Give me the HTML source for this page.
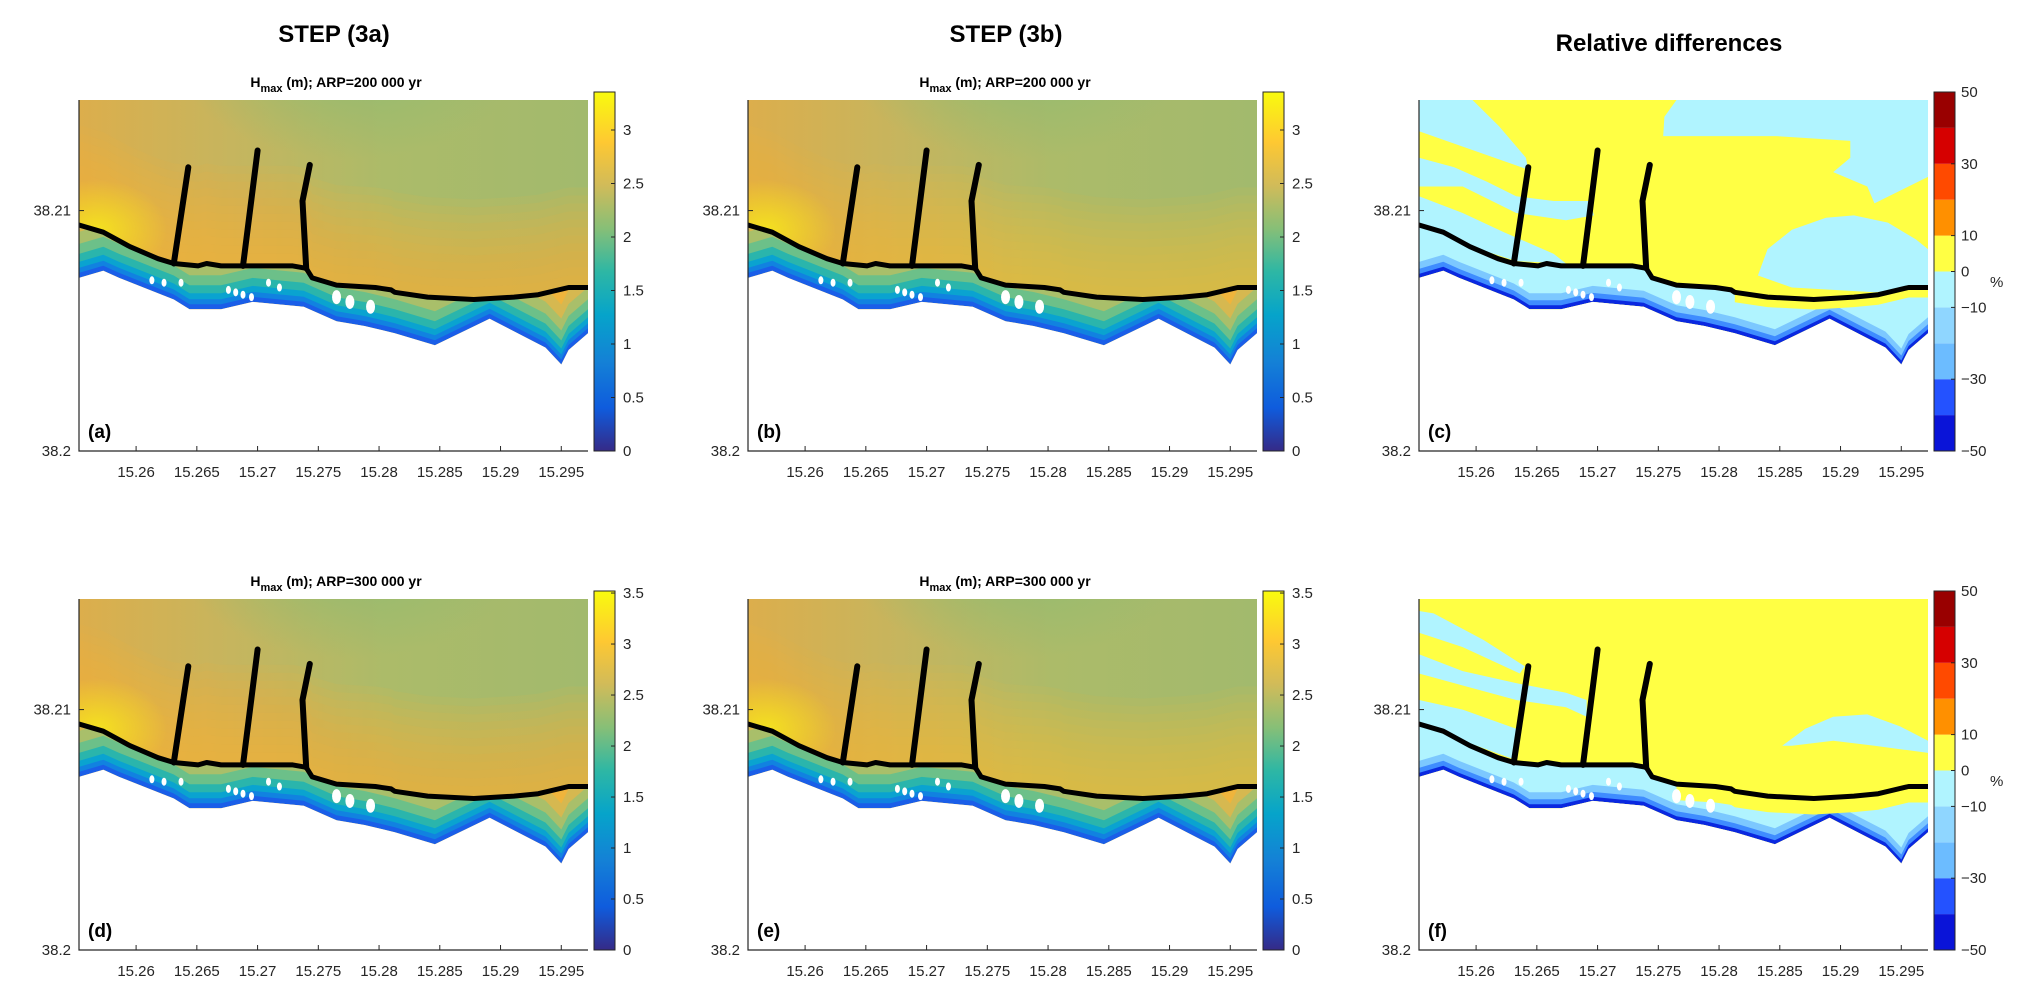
<!DOCTYPE html>
<html><head><meta charset="utf-8">
<style>
html,body{margin:0;padding:0;background:#fff;}
svg{display:block;font-family:"Liberation Sans",sans-serif;}
</style></head>
<body>
<svg id="fig" width="2027" height="999" viewBox="0 0 2027 999" xmlns="http://www.w3.org/2000/svg">
  <defs id="defs"></defs>
  <text x="334" y="42" font-size="24" font-weight="bold" text-anchor="middle" fill="#000">STEP (3a)</text>
  <text x="1006" y="42" font-size="24" font-weight="bold" text-anchor="middle" fill="#000">STEP (3b)</text>
  <text x="1669" y="51" font-size="24" font-weight="bold" text-anchor="middle" fill="#000">Relative differences</text>
</svg>
<script>
// ---------- data ----------
const xTicks = [15.26,15.265,15.27,15.275,15.28,15.285,15.29,15.295];
const xTickLabels = ["15.26","15.265","15.27","15.275","15.28","15.285","15.29","15.295"];
const yTicks = [38.2,38.21];
const yTickLabels = ["38.2","38.21"];
const coastLon = [15.2553,15.2573,15.2595,15.2618,15.2631,15.2651,15.2658,15.2670,15.2690,15.2716,15.2729,15.2740,15.2745,15.2765,15.2797,15.2810,15.2813,15.2840,15.2878,15.2911,15.2931,15.2956,15.2972];
const coastLat = [38.2094,38.2091,38.2085,38.2080,38.2078,38.2077,38.2078,38.2077,38.2077,38.2077,38.2077,38.2076,38.2072,38.2069,38.2068,38.2067,38.2066,38.2064,38.2063,38.2064,38.2065,38.2068,38.2068];
const edgeLon = [15.2553,15.2573,15.2586,15.2631,15.2644,15.2670,15.2696,15.2738,15.2765,15.2788,15.2813,15.2846,15.2891,15.2937,15.2950,15.2956,15.2972];
const edgeLat = [38.2072,38.2075,38.2072,38.2063,38.2059,38.2059,38.2062,38.2060,38.2054,38.2052,38.2049,38.2044,38.2055,38.2043,38.2036,38.2042,38.2049];
const pier1Lon = [15.2631,15.2643]; const pier1Lat = [38.2078,38.2118];
const pier2Lon = [15.2688,15.2700]; const pier2Lat = [38.2077,38.2125];
const pier3Lon = [15.2740,15.2737,15.2743]; const pier3Lat = [38.2076,38.2104,38.2119];
const bldLon = [15.2613,15.2623,15.2637,15.2676,15.2682,15.2688,15.2695,15.2709,15.2718,15.2765,15.2776,15.2793];
const bldLat = [38.2071,38.2070,38.2070,38.2067,38.2066,38.2065,38.2064,38.2070,38.2068,38.2064,38.2062,38.2060];
const hTicks200 = [0,0.5,1,1.5,2,2.5,3];
const hTicks300 = [0,0.5,1,1.5,2,2.5,3,3.5];
const hMax200 = 3.355;
const hMax300 = 3.52;
const diffBounds = [-50,-40,-30,-20,-10,0,10,20,30,40,50];
const diffColors = ["#0a14d8","#2452ff","#6cbcff","#8fd6ff","#b0f4ff","#ffff44","#ff9000","#ff4a00","#d60000","#990000"];
const diffTicks = [-50,-30,-10,0,10,30,50];
const cA_lon=[15.2553,15.2597,15.2619,15.2641,15.2643,15.2553]; const cA_lat=[38.2146,38.2146,38.2135,38.2122,38.2117,38.2133];
const cB_lon=[15.2553,15.2582,15.2609,15.2633,15.2664,15.2694,15.2697,15.2674,15.2633,15.2589,15.2553]; const cB_lat=[38.2122,38.2118,38.2112,38.2106,38.2104,38.2104,38.2098,38.2096,38.2099,38.2110,38.2110];
const cC_lon=[15.2553,15.2589,15.2623,15.2664,15.2674,15.2633,15.2553]; const cC_lat=[38.2106,38.2099,38.2091,38.2082,38.2078,38.2079,38.2092];
const cD_lon=[15.2765,15.2972,15.2972,15.2928,15.2922,15.2894,15.2908,15.2908,15.2847,15.2754,15.2755]; const cD_lat=[38.2146,38.2146,38.2114,38.2103,38.2110,38.2116,38.2122,38.2129,38.2131,38.2131,38.2139];
const cE_lon=[15.2832,15.2840,15.2860,15.2888,15.2911,15.2939,15.2962,15.2972,15.2972,15.2928,15.2860]; const cE_lat=[38.2073,38.2084,38.2092,38.2097,38.2098,38.2095,38.2088,38.2084,38.2068,38.2066,38.2068];
const f1_lon=[15.2553,15.2565,15.2606,15.2640,15.2636,15.2589,15.2553]; const f1_lat=[38.2141,38.2140,38.2129,38.2118,38.2115,38.2126,38.2132];
const f2_lon=[15.2553,15.2589,15.2633,15.2674,15.2691,15.2691,15.2674,15.2633,15.2589,15.2553]; const f2_lat=[38.2123,38.2116,38.2111,38.2107,38.2104,38.2097,38.2101,38.2104,38.2110,38.2115];
const f3_lon=[15.2553,15.2589,15.2633,15.2633,15.2589,15.2553]; const f3_lat=[38.2104,38.2100,38.2092,38.2079,38.2087,38.2094];
const f4_lon=[15.2852,15.2871,15.2894,15.2922,15.2949,15.2972,15.2972,15.2928,15.2894,15.2860]; const f4_lat=[38.2085,38.2092,38.2097,38.2098,38.2093,38.2087,38.2082,38.2085,38.2087,38.2085];

// ---------- helpers ----------
const NS="http://www.w3.org/2000/svg";
const svg=document.getElementById('fig');
const defs=document.getElementById('defs');
function mk(tag,attrs,parent){const e=document.createElementNS(NS,tag);for(const k in attrs)e.setAttribute(k,attrs[k]);(parent||svg).appendChild(e);return e;}
const LON0=15.2553,LON1=15.2972,LAT0=38.2,LAT1=38.2146;
const PL=79,PR=588,PT=100,PB=451;
function axX(ox){return lon=>ox+PL+(lon-LON0)/(LON1-LON0)*(PR-PL);}
function axY(oy){return lat=>oy+PB-(lat-LAT0)/(LAT1-LAT0)*(PB-PT);}
function pts(lons,lats,X,Y,dy){return lons.map((v,i)=>X(v).toFixed(1)+','+(Y(lats[i])+(dy||0)).toFixed(1));}
const parulaStops=[[0,"#352a87"],[0.12,"#0f5cdd"],[0.25,"#1481d6"],[0.38,"#06a4ca"],[0.5,"#2eb7a4"],[0.62,"#87bf77"],[0.74,"#d1bb59"],[0.86,"#fec832"],[1,"#f9fb0e"]];
let gid=0;
function parulaGrad(){const id='pg'+(gid++);const g=mk('linearGradient',{id:id,x1:0,y1:1,x2:0,y2:0},defs);parulaStops.forEach(s=>mk('stop',{offset:s[0],'stop-color':s[1]},g));return id;}

const panels=[
 {ox:0,oy:0,kind:'h',max:hMax200,ticks:hTicks200,lab:'(a)',arp:'200 000',var:0},
 {ox:669,oy:0,kind:'h',max:hMax200,ticks:hTicks200,lab:'(b)',arp:'200 000',var:1},
 {ox:1340,oy:0,kind:'d',lab:'(c)',cyan:[[cA_lon,cA_lat],[cB_lon,cB_lat],[cC_lon,cC_lat],[cD_lon,cD_lat],[cE_lon,cE_lat]]},
 {ox:0,oy:499,kind:'h',max:hMax300,ticks:hTicks300,lab:'(d)',arp:'300 000',var:0},
 {ox:669,oy:499,kind:'h',max:hMax300,ticks:hTicks300,lab:'(e)',arp:'300 000',var:1},
 {ox:1340,oy:499,kind:'d',lab:'(f)',cyan:[[f1_lon,f1_lat],[f2_lon,f2_lat],[f3_lon,f3_lat],[f4_lon,f4_lat]]}
];

panels.forEach((p,pi)=>{
 const X=axX(p.ox),Y=axY(p.oy);
 const g=mk('g',{});
 
 
 const cid='clip'+pi;
 const cp=mk('clipPath',{id:cid},defs);
 mk('rect',{x:p.ox+PL,y:p.oy+PT,width:PR-PL,height:PB-PT},cp);
 const plot=mk('g',{'clip-path':'url(#'+cid+')'},g);
 
 
 const coastPts=pts(coastLon,coastLat,X,Y);
 const edgeRev=(k)=>pts(edgeLon,edgeLat,X,Y,-k).reverse();
 const inund='M'+coastPts.join(' L')+' L'+edgeRev(0).join(' L')+' Z';
 const icid='iclip'+pi;
 const icp=mk('clipPath',{id:icid},defs);
 mk('path',{d:inund},icp);
 if(p.kind==='h'){
  const gh='fh'+pi;
  const lg=mk('linearGradient',{id:gh,x1:0,y1:0,x2:1,y2:0},defs);
  mk('stop',{offset:0,'stop-color':'#dcae4c'},lg);
  mk('stop',{offset:0.3,'stop-color':'#c6b55e'},lg);
  mk('stop',{offset:0.6,'stop-color':'#acbb69'},lg);
  mk('stop',{offset:1,'stop-color':'#a2ba6d'},lg);
  const bg=mk('rect',{x:p.ox+PL,y:p.oy+PT,width:PR-PL,height:PB-PT,fill:'url(#'+gh+')'},plot);
  
  
  const rg='rg'+pi;
  const r=mk('radialGradient',{id:rg,cx:0.5,cy:0,r:0.45},defs);
  mk('stop',{offset:0,'stop-color':'#8fbb72','stop-opacity':0.9},r);
  mk('stop',{offset:1,'stop-color':'#8fbb72','stop-opacity':0},r);
  mk('rect',{x:p.ox+PL+80,y:p.oy+PT-40,width:380,height:220,fill:'url(#'+rg+')'},plot);
  for(let k=100;k>=8;k-=8){
   const d='M'+pts(coastLon,coastLat,X,Y,-k).join(' L')+' L'+(p.ox+PR)+','+(p.oy+PB)+' L'+(p.ox+PL)+','+(p.oy+PB)+' Z';
   mk('path',{d:d,fill:'#f7b437','fill-opacity':p.var?0.085:0.1},plot);
  }
  const yg='yg'+pi;
  const yr=mk('radialGradient',{id:yg,cx:0.5,cy:0.5,r:0.5},defs);
  mk('stop',{offset:0,'stop-color':'#f4e41e','stop-opacity':0.95},yr);
  mk('stop',{offset:1,'stop-color':'#f4e41e','stop-opacity':0},yr);
  mk('ellipse',{cx:X(15.2568),cy:Y(38.2092),rx:70,ry:50,fill:'url(#'+yg+')'},plot);
  const ig=mk('g',{'clip-path':'url(#'+icid+')'},plot);
  
  
  const layers=[[0,'#1a5ee8'],[5,'#1182e0'],[10,'#0aa3d0'],[16,'#2ab5ac'],[24,'#6cc089'],[34,'#a9bf6a'],[46,'#d6b850'],[60,'#efb43c']];
  layers.forEach(l=>{mk('path',{d:'M'+coastPts.join(' L')+' L'+edgeRev(l[0]).join(' L')+' Z',fill:l[1]},ig);});
 } else {
  const bg=mk('rect',{x:p.ox+PL,y:p.oy+PT,width:PR-PL,height:PB-PT,fill:'#ffff44'},plot);
  
  
  p.cyan.forEach(c=>{
   const e=mk('polygon',{points:pts(c[0],c[1],X,Y).join(' '),fill:'#b0f4ff'},plot);
   
   
  });
  const ig=mk('g',{'clip-path':'url(#'+icid+')'},plot);
  
  
  const layers=[[0,'#0a28e0'],[4,'#3f8cff'],[9,'#7cc8ff'],[16,'#b0f4ff']];
  layers.forEach(l=>{mk('path',{d:'M'+coastPts.join(' L')+' L'+edgeRev(l[0]).join(' L')+' Z',fill:l[1]},ig);});
  if(pi===5){mk('path',{d:'M'+pts(coastLon.slice(13),coastLat.slice(13),X,Y).join(' L')+' L'+pts(coastLon.slice(13),coastLat.slice(13),X,Y,16).reverse().join(' L')+' Z',fill:'#ffff44'},ig);}
  else {mk('path',{d:'M'+pts(coastLon.slice(16),coastLat.slice(16),X,Y).join(' L')+' L'+pts(coastLon.slice(16),coastLat.slice(16),X,Y,10).reverse().join(' L')+' Z',fill:'#ffff44'},ig);}
 }
 // dry land (white) below the inundation limit
 const land=mk('path',{d:'M'+pts(edgeLon,edgeLat,X,Y).join(' L')+' L'+(p.ox+PR+2)+','+(p.oy+PB+2)+' L'+(p.ox+PL-2)+','+(p.oy+PB+2)+' Z',fill:'#fff'},plot);
 
 
 bldLon.forEach((v,i)=>{
  const b=mk('ellipse',{cx:X(v),cy:Y(bldLat[i]),rx:i>=9?4.5:2.5,ry:i>=9?7:4,fill:'#fff'},plot);
  
  
 });
 const cl=mk('polyline',{points:coastPts.join(' '),fill:'none',stroke:'#000','stroke-width':5,'stroke-linejoin':'round','stroke-linecap':'round'},plot);
 
 
 [[pier1Lon,pier1Lat],[pier2Lon,pier2Lat],[pier3Lon,pier3Lat]].forEach((pr,k)=>{
  const e=mk('polyline',{points:pts(pr[0],pr[1],X,Y).join(' '),fill:'none',stroke:'#000','stroke-width':6,'stroke-linecap':'round','stroke-linejoin':'round'},plot);
  
  
 });
 const ax=mk('path',{d:'M'+(p.ox+PL)+','+(p.oy+PT)+' V'+(p.oy+PB)+' H'+(p.ox+PR),fill:'none',stroke:'#262626','stroke-width':1.2},g);
 
 
 xTicks.forEach((t,i)=>{
  mk('line',{x1:X(t),x2:X(t),y1:p.oy+PB,y2:p.oy+PB-5,stroke:'#262626','stroke-width':1},g);
  const tl=mk('text',{x:X(t),y:p.oy+477,'font-size':15,'text-anchor':'middle',fill:'#262626'},g);
  tl.textContent=xTickLabels[i];
  
  
 });
 yTicks.forEach((t,i)=>{
  mk('line',{x1:p.ox+PL,x2:p.ox+PL+5,y1:Y(t),y2:Y(t),stroke:'#262626','stroke-width':1},g);
  const tl=mk('text',{x:p.ox+PL-8,y:Y(t)+5,'font-size':15,'text-anchor':'end',fill:'#262626'},g);
  tl.textContent=yTickLabels[i];
  
  
 });
 const pl=mk('text',{x:p.ox+88,y:p.oy+438,'font-size':19,'font-weight':'bold',fill:'#000'},g);
 pl.textContent=p.lab;
 
 
 const cbx=p.ox+594,cbw=21,cbt=p.oy+92,cbb=p.oy+451;
 const cb=mk('g',{},g);
 
 
 if(p.kind==='h'){
  const id=parulaGrad();
  mk('rect',{x:cbx,y:cbt,width:cbw,height:cbb-cbt,fill:'url(#'+id+')',stroke:'#262626','stroke-width':1},cb);
  const cy=v=>cbb-v/p.max*(cbb-cbt);
  p.ticks.forEach(t=>{
   mk('line',{x1:cbx+cbw-4,x2:cbx+cbw,y1:cy(t),y2:cy(t),stroke:'#262626'},cb);
   const tl=mk('text',{x:cbx+29,y:cy(t)+5,'font-size':15,fill:'#262626'},cb);
   tl.textContent=String(t);
   
   
  });
  const st=mk('text',{x:p.ox+336,y:p.oy+87,'font-size':14,'font-weight':'bold','text-anchor':'middle',fill:'#000'},g);
  
  
  const t1=mk('tspan',{},st);t1.textContent='H';
  const t2=mk('tspan',{dy:5,'font-size':11},st);t2.textContent='max';
  const t3=mk('tspan',{dy:-5},st);t3.textContent=' (m); ARP='+p.arp+' yr';
 } else {
  const cy=v=>cbb-(v+50)/100*(cbb-cbt);
  diffColors.forEach((c,i)=>{
   const r=mk('rect',{x:cbx,y:cy(diffBounds[i+1]),width:cbw,height:cy(diffBounds[i])-cy(diffBounds[i+1]),fill:c},cb);
   
   
  });
  mk('rect',{x:cbx,y:cbt,width:cbw,height:cbb-cbt,fill:'none',stroke:'#262626','stroke-width':1},cb);
  diffTicks.forEach(t=>{
   mk('line',{x1:cbx+cbw-4,x2:cbx+cbw,y1:cy(t),y2:cy(t),stroke:'#262626'},cb);
   const tl=mk('text',{x:cbx+27,y:cy(t)+5,'font-size':15,fill:'#262626'},cb);
   tl.textContent=t<0?'\u2212'+(-t):String(t);
   
   
  });
  const pc=mk('text',{x:p.ox+650,y:p.oy+287,'font-size':15,fill:'#262626'},cb);
  pc.textContent='%';
  
  
 }
});
</script>
</body></html>
